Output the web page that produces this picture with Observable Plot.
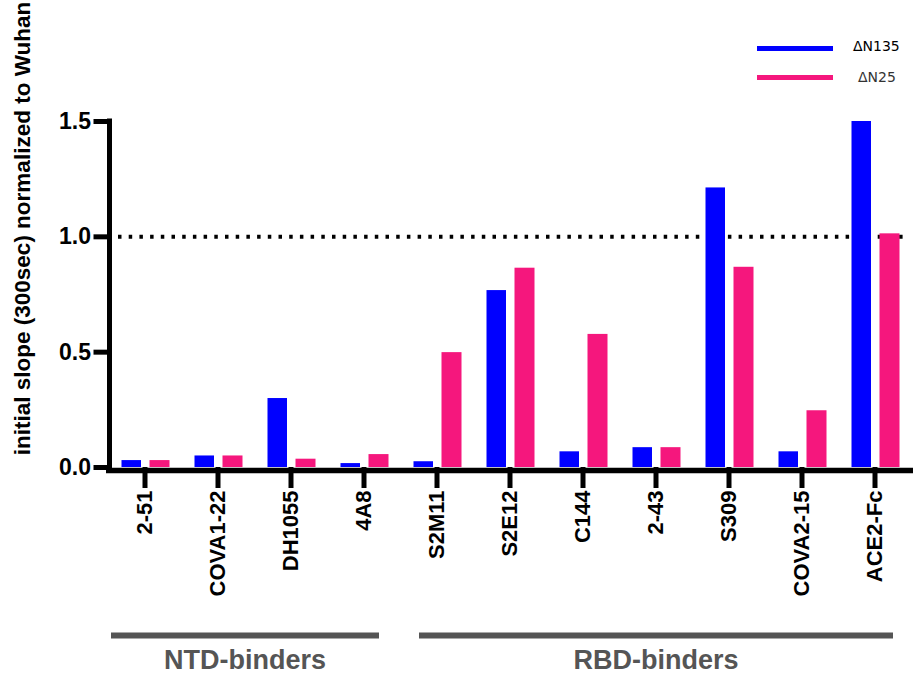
<!DOCTYPE html>
<html>
<head>
<meta charset="utf-8">
<script src="https://cdn.jsdelivr.net/npm/d3@7"></script>
<script src="https://cdn.jsdelivr.net/npm/@observablehq/plot@0.6"></script>
<style>
  html, body { margin: 0; padding: 0; background: #fff; }
  #wrap { position: relative; width: 913px; height: 677px; }
  .sw { position: absolute; height: 5px; width: 76px; left: 757px; }
  .lg { position: absolute; font-family: "DejaVu Sans", sans-serif; font-size: 14px; line-height: 14px; white-space: nowrap; }
</style>
</head>
<body>
<div id="wrap"></div>
<script>
// ---- data ----
const antibodies = ["2-51", "COVA1-22", "DH1055", "4A8", "S2M11", "S2E12", "C144", "2-43", "S309", "COVA2-15", "ACE2-Fc"];
const dN135 = [0.030, 0.050, 0.299, 0.017, 0.025, 0.767, 0.068, 0.086, 1.212, 0.068, 1.500];
const dN25  = [0.030, 0.050, 0.036, 0.056, 0.498, 0.864, 0.577, 0.086, 0.868, 0.246, 1.013];
const seriesNames = ["ΔN135", "ΔN25"];
const seriesColors = ["#0000FF", "#F5177D"];
const yTicks = [0, 0.5, 1.0, 1.5];
const refLevel = [1.0];
const yTitle = "initial slope (300sec) normalized to Wuhan";
const groupNames = ["NTD-binders", "RBD-binders"];
const groupStart = ["2-51", "S2M11"];
const groupEnd = ["4A8", "ACE2-Fc"];
const groupLabelAt = ["DH1055", "2-43"];

// ---- tables ----
const rows135 = antibodies.map((a, i) => ({antibody: a, series: seriesNames[0], value: dN135[i]}));
const rows25 = antibodies.map((a, i) => ({antibody: a, series: seriesNames[1], value: dN25[i]}));
const groups = groupNames.map((g, i) => ({name: g, start: groupStart[i], end: groupEnd[i], at: groupLabelAt[i]}));

const yAxisLine = (index, scales, values, dimensions) => {
  const x = dimensions.marginLeft + 3.5;
  const line = document.createElementNS("http://www.w3.org/2000/svg", "line");
  line.setAttribute("x1", x); line.setAttribute("x2", x);
  line.setAttribute("y1", scales.y(1.5) - 2.5);
  line.setAttribute("y2", scales.y(0) + 6);
  line.setAttribute("stroke", "#000");
  line.setAttribute("stroke-width", 5);
  return line;
};

const chart = Plot.plot({
  width: 913,
  height: 677,
  marginLeft: 106,
  marginRight: 0,
  marginTop: 121,
  marginBottom: 210,
  style: {fontFamily: "'Liberation Sans', Arial, sans-serif", color: "#000", background: "#fff"},
  x: {domain: antibodies, padding: 0},
  y: {domain: [0, 1.5], label: null},
  color: {domain: seriesNames, range: seriesColors},
  marks: [
    Plot.ruleY(refLevel, {stroke: "#000", strokeWidth: 4, strokeDasharray: "3.5,7.2", insetLeft: 12, insetRight: 8}),
    Plot.barY(rows135, {x: "antibody", y: "value", fill: "series", insetLeft: 13.5, insetRight: 40}),
    Plot.barY(rows25, {x: "antibody", y: "value", fill: "series", insetLeft: 41.5, insetRight: 11.5}),
    Plot.ruleY([0], {stroke: "#000", strokeWidth: 5.5, dy: 3}),
    yAxisLine,
    Plot.axisY({ticks: yTicks, tickFormat: d3.format(".1f"), tickSize: 16, tickPadding: 3, dx: 3.5,
      strokeWidth: 5, fontSize: 23, fontWeight: "bold", label: null}),
    Plot.axisX({tickSize: 21, tickPadding: 2, tickRotate: -90, strokeWidth: 5,
      fontSize: 22, fontWeight: "bold", label: null}),
    Plot.ruleY(groups.slice(0, 1), {x1: "start", x2: "end", y: () => 0, dy: 168, stroke: "#555", strokeWidth: 6, insetLeft: 3, insetRight: 21}),
    Plot.ruleY(groups.slice(1, 2), {x1: "start", x2: "end", y: () => 0, dy: 168, stroke: "#555", strokeWidth: 6, insetLeft: 19, insetRight: 18}),
    Plot.text(groups.slice(0, 1), {x: "at", y: () => 0, text: "name", dx: -46, dy: 193, fill: "#555", fontSize: 27, fontWeight: "bold"}),
    Plot.text(groups.slice(1, 2), {x: "at", y: () => 0, text: "name", dy: 193, fill: "#555", fontSize: 27, fontWeight: "bold"}),
    Plot.text([yTitle], {frameAnchor: "left", text: d => d, rotate: -90, textAnchor: "middle", dx: -84, dy: -66, fontSize: 22.5, fontWeight: "bold", fill: "#000"})
  ]
});

const wrap = document.getElementById("wrap");
wrap.appendChild(chart);

// legend (HTML overlay)
const legendTops = [45.5, 75];
const labelTops = [39, 69.5];
const labelLefts = [853, 858];
const labelColors = ["#000", "#333"];
seriesNames.forEach((s, i) => {
  const sw = document.createElement("div");
  sw.className = "sw";
  sw.style.top = legendTops[i] + "px";
  sw.style.background = seriesColors[i];
  wrap.appendChild(sw);
  const lb = document.createElement("div");
  lb.className = "lg";
  lb.style.top = labelTops[i] + "px";
  lb.style.left = labelLefts[i] + "px";
  lb.style.color = labelColors[i];
  lb.textContent = s;
  wrap.appendChild(lb);
});
</script>
</body>
</html>
